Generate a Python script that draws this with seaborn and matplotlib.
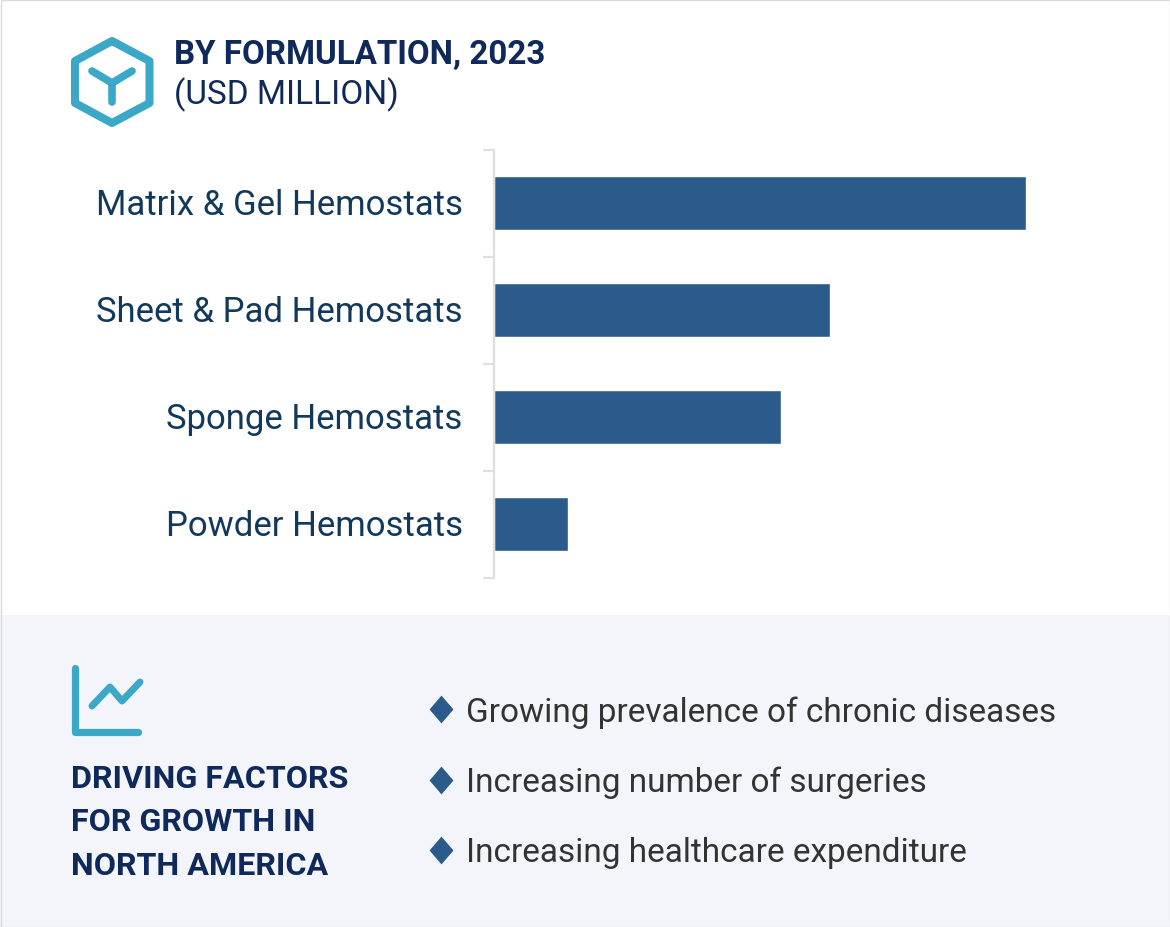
import matplotlib
matplotlib.use('Agg')
import matplotlib.pyplot as plt
import seaborn as sns
import pandas as pd
from matplotlib.patches import Rectangle, Polygon
from matplotlib.transforms import ScaledTranslation

# values (no scale shown, so arbitrary units)
categories = ['Matrix & Gel Hemostats', 'Sheet & Pad Hemostats', 'Sponge Hemostats', 'Powder Hemostats']
values = [532, 336, 287, 74]
factors = ['Growing prevalence of chronic diseases', 'Increasing number of surgeries', 'Increasing healthcare expenditure']
title_lines = ['BY FORMULATION, 2023', '(USD MILLION)']
heading_lines = ['DRIVING FACTORS', 'FOR GROWTH IN', 'NORTH AMERICA']

W, H = 1170, 928
BAR = '#2b5b8a'
TEAL = '#3aa8c6'
NAVY = '#0f2a5a'
LABEL = '#12395b'
GREY = '#dfdfdf'

sns.set_theme(style='white')
plt.rcParams['font.family'] = ['Roboto', 'DejaVu Sans']

fig = plt.figure(figsize=(W / 100, H / 100), dpi=100, facecolor='white')

# overlay in pixel coords for panel, icons and text
bg = fig.add_axes([0, 0, 1, 1], zorder=0)
bg.set_xlim(0, W)
bg.set_ylim(H, 0)
bg.axis('off')

bg.add_patch(Rectangle((0, 616), W, H - 616, color='#f3f5fa', lw=0))
bg.add_patch(Rectangle((0.5, 0.5), W - 1, H - 1, fill=False, ec='#d8dbe2', lw=1))

# hexagon icon
bg.add_patch(Polygon([(112, 42), (149.5, 62), (149.5, 104), (112, 124), (75, 104), (75, 62)],
                     closed=True, fill=False, ec=TEAL, lw=5.8, joinstyle='round'))
bg.plot([92, 112, 132], [72, 84, 72], color=TEAL, lw=5.5, solid_capstyle='round', solid_joinstyle='round')
bg.plot([112, 112], [84, 103], color=TEAL, lw=5.5, solid_capstyle='round')

# line chart icon
bg.plot([74.5, 74.5, 138], [669, 733, 733], color=TEAL, lw=5.2, solid_capstyle='round', solid_joinstyle='round')
bg.plot([92, 110, 122, 140], [707, 688, 702, 683], color=TEAL, lw=5, solid_capstyle='round', solid_joinstyle='round')

bg.text(174, 64, title_lines[0], fontsize=23.9, fontweight='bold', color=NAVY, va='baseline')
bg.text(174, 104, title_lines[1], fontsize=24, color=NAVY, va='baseline')

for i, line in enumerate(heading_lines):
    bg.text(71, 788 + i * 43.5, line, fontsize=23.2, fontweight='bold', color=NAVY, va='baseline')

bullet = [(0, 1), (0.86, 0), (0, -1), (-0.86, 0)]
for y, txt in zip([710, 780.5, 851], factors):
    bg.scatter([441], [y], marker=bullet, s=400, color=BAR, linewidths=0)
    bg.text(466.5, y - 1, txt, fontsize=24.05, color='#333333', va='center_baseline')

# bar chart
ax = fig.add_axes([494 / W, 1 - 578.5 / H, 600 / W, 428 / H], zorder=1)
ax.patch.set_alpha(0)
df = pd.DataFrame({'formulation': categories, 'value': values})
sns.barplot(data=df, x='value', y='formulation', color=BAR, saturation=1, width=0.5, ax=ax)
ax.set_xlim(0, 600)
ax.set_ylim(3.5, -0.5)
ax.set_xlabel('')
ax.set_ylabel('')
ax.set_xticks([])
sns.despine(ax=ax, top=True, right=True, bottom=True)
ax.spines['left'].set_color(GREY)
ax.spines['left'].set_linewidth(1.6)
ax.set_yticks([-0.5, 0.5, 1.5, 2.5, 3.5])
ax.set_yticklabels([])
ax.set_yticks(range(len(categories)), labels=categories, minor=True)
ax.tick_params(axis='y', which='major', left=True, length=8, width=1.6, color=GREY)
ax.tick_params(axis='y', which='minor', left=False, length=0, pad=22.5, labelsize=25, labelcolor=LABEL)
# labels sit a little above the bar centres in the reference
nudge = ScaledTranslation(0, 2 / 100, fig.dpi_scale_trans)
for lab in ax.get_yticklabels(minor=True):
    lab.set_va('center_baseline')
    lab.set_transform(lab.get_transform() + nudge)

fig.savefig('out.png', dpi=100)
